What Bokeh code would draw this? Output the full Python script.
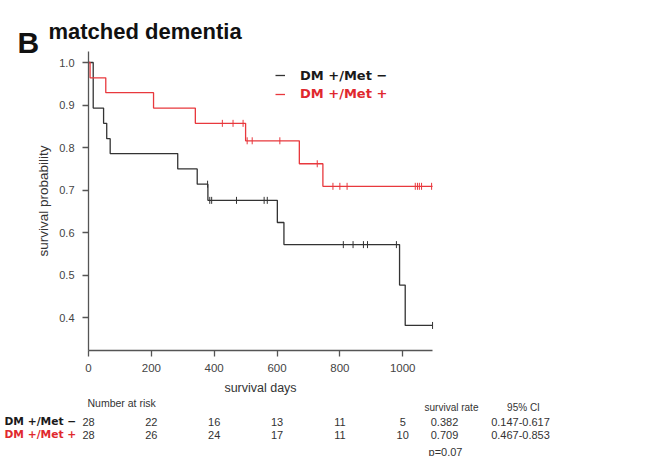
import numpy as np
from bokeh.plotting import figure
from bokeh.models import Range1d, Legend, LegendItem, FixedTicker, Label, NumeralTickFormatter
from bokeh.embed import file_html
from bokeh.resources import INLINE

# ---------------- data ----------------
met_neg_times = [0, 15, 48, 58, 69, 284, 346, 380, 601, 622, 990, 1008, 1095]
met_neg_surv = [1.0, 0.893, 0.857, 0.821, 0.786, 0.750, 0.714, 0.676, 0.624, 0.572, 0.477, 0.382, 0.382]
met_neg_cens_t = [379, 386, 392, 471, 559, 569, 811, 842, 875, 888, 980, 1095]
met_neg_cens_s = [0.714, 0.676, 0.676, 0.676, 0.676, 0.676, 0.572, 0.572, 0.572, 0.572, 0.572, 0.382]

met_pos_times = [0, 5, 55, 207, 340, 500, 671, 746, 1095]
met_pos_surv = [1.0, 0.964, 0.929, 0.893, 0.857, 0.816, 0.762, 0.709, 0.709]
met_pos_cens_t = [426, 460, 492, 505, 521, 609, 728, 778, 800, 823, 1040, 1047, 1053, 1060, 1092]
met_pos_cens_s = [0.857, 0.857, 0.857, 0.816, 0.816, 0.816, 0.762, 0.709, 0.709, 0.709,
                  0.709, 0.709, 0.709, 0.709, 0.709]

x_ticks = [0, 200, 400, 600, 800, 1000]
y_ticks = [0.4, 0.5, 0.6, 0.7, 0.8, 0.9, 1.0]
x_axis_end = 1095
y_axis_start, y_axis_end = 0.3224, 1.0259

group_labels = ["DM +/Met \u2212", "DM +/Met +"]
risk_days = [0, 200, 400, 600, 800, 1000]
risk_neg = [28, 22, 16, 13, 11, 5]
risk_pos = [28, 26, 24, 17, 11, 10]
surv_rate = ["0.382", "0.709"]
ci_95 = ["0.147-0.617", "0.467-0.853"]
p_value = "p=0.07"

# ---------------- layout / styling ----------------
FONT = "Liberation Sans"
WIDE = "DejaVu Sans"
BLACK = "#333333"
RED = "#e8383d"
AX = "#555555"
TXTC = "#333333"

W, H = 646, 456
ORIGIN_X, PX_PER_DAY = 88, 0.3142      # pixel of day 0, pixels per day
ONE_Y, PX_PER_UNIT = 62, 425.5         # pixel of probability 1.0, pixels per unit

x_range = Range1d(-ORIGIN_X / PX_PER_DAY, (W - ORIGIN_X) / PX_PER_DAY)
y_range = Range1d(1.0 - (H - ONE_Y) / PX_PER_UNIT, 1.0 + ONE_Y / PX_PER_UNIT)

p = figure(width=W, height=H, x_range=x_range, y_range=y_range,
           output_backend="svg", toolbar_location=None, min_border=0)
p.grid.visible = False
p.outline_line_color = None
p.title.visible = False


def add_text(txt, x, cy, size, color=TXTC, align="left", baseline="middle", bold=False,
             font=FONT, x_units="screen"):
    p.add_layout(Label(x=x, y=H - cy, x_units=x_units, y_units="screen", text=txt,
                       text_font=font, text_font_size=size, text_color=color,
                       text_font_style="bold" if bold else "normal",
                       text_align=align, text_baseline=baseline))


# curves
r_neg = p.step(met_neg_times, met_neg_surv, mode="after", line_color=BLACK, line_width=1.3)
r_pos = p.step(met_pos_times, met_pos_surv, mode="after", line_color=RED, line_width=1.3)
p.scatter(met_neg_cens_t, met_neg_cens_s, marker="dash", angle=np.pi / 2, size=7,
          line_color=BLACK, line_width=1)
p.scatter(met_pos_cens_t, met_pos_cens_s, marker="dash", angle=np.pi / 2, size=7,
          line_color=RED, line_width=1)

# axes (L-shaped, fixed at the data origin)
p.xaxis.fixed_location = y_axis_start
p.xaxis.bounds = (0, x_axis_end)
p.yaxis.fixed_location = 0
p.yaxis.bounds = (y_axis_start, y_axis_end)
p.xaxis.ticker = FixedTicker(ticks=x_ticks)
p.yaxis.ticker = FixedTicker(ticks=y_ticks)
p.yaxis.formatter = NumeralTickFormatter(format="0.0")
for ax in (p.xaxis, p.yaxis):
    ax.axis_line_color = AX
    ax.axis_line_width = 1.3
    ax.major_tick_line_color = AX
    ax.major_tick_line_width = 1.3
    ax.major_tick_out = 6
    ax.major_tick_in = 0
    ax.minor_tick_line_color = None
    ax.major_label_text_font = FONT
    ax.major_label_text_color = "#444444"
    ax.axis_label_text_font = FONT
    ax.axis_label_text_font_style = "normal"
    ax.axis_label_text_color = TXTC
p.xaxis.major_label_text_font_size = "11.5px"
p.yaxis.major_label_text_font_size = "11px"
p.xaxis.major_label_standoff = 7
p.yaxis.major_label_standoff = 8
p.xaxis.axis_label = "survival days"
p.yaxis.axis_label = "survival probability"
p.xaxis.axis_label_text_font_size = "12.5px"
p.yaxis.axis_label_text_font_size = "13.5px"
p.xaxis.axis_label_standoff = 6
p.yaxis.axis_label_standoff = 5

# legend (two single-item legends so that each label keeps its own colour)
for lbl, rend, col, cy in ((group_labels[0], r_neg, "#1a1a1a", 75.7), (group_labels[1], r_pos, "#e0282e", 94.3)):
    lg = Legend(items=[LegendItem(label=lbl, renderers=[rend])], location=(275, H - cy - 7),
                border_line_color=None, background_fill_alpha=0, padding=0, margin=0, spacing=0,
                glyph_width=10, glyph_height=14, label_height=14, label_standoff=15,
                label_text_font=WIDE, label_text_font_style="bold", label_text_font_size="13px",
                label_text_color=col)
    p.add_layout(lg)

# title
add_text("B", 17, 41.7, "30px", color="#111111", baseline="alphabetic", bold=True)
add_text("matched dementia", 48, 30.7, "22px", color="#111111", baseline="alphabetic", bold=True)

# number at risk table
add_text("Number at risk", 87, 402, "10.5px")
row_y = [421, 434]
row_cols = ["#1a1a1a", "#e0282e"]
for lbl, ry, col in zip(group_labels, row_y, row_cols):
    add_text(lbl, 4, ry, "10.7px", color=col, bold=True, font=WIDE)
for vals, ry in ((risk_neg, row_y[0]), (risk_pos, row_y[1])):
    for d, v in zip(risk_days, vals):
        add_text(str(v), d, ry, "11px", align="center", x_units="data")

# survival rate / CI table
add_text("survival rate", 451, 407, "10px", align="center")
add_text("95% CI", 523, 407, "10px", align="center")
for ry, sr, ci in zip(row_y, surv_rate, ci_95):
    add_text(sr, 444, ry, "11px", align="center")
    add_text(ci, 520, ry, "11px", align="center")
add_text(p_value, 445, 451, "11px", align="center", baseline="alphabetic")

open("out.html", "w").write(file_html(p, INLINE))
